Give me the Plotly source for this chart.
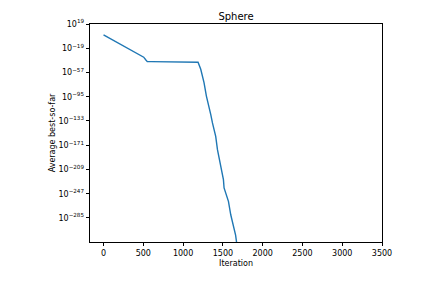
import plotly.graph_objects as go

# Data
iterations = [0, 250, 505, 530, 550, 600, 900, 1188, 1222, 1263, 1293, 1326, 1348, 1369,
              1410, 1432, 1473, 1507, 1515, 1570, 1599, 1641, 1660, 1672]
best_so_far = [1e2, 1e-15, 1e-33, 1e-37, 1e-40, 1e-40, 1e-41, 1e-41, 1e-52, 1e-73, 1e-94, 1e-110,
               1e-123, 1e-136, 1e-157, 1e-178, 1e-204, 1e-225, 1e-238, 1e-259, 1e-280, 1e-301,
               1e-312, 1e-323]

y_tick_exps = [19, -19, -57, -95, -133, -171, -209, -247, -285]
x_ticks = [0, 500, 1000, 1500, 2000, 2500, 3000, 3500]

FONT = "DejaVu Sans"
W, H = 434, 282  # page body has an 8px margin

def sup(e):
    s = str(e).replace("-", "\u2212")
    return "10<sup>" + s + "</sup>"

fig = go.Figure()
fig.add_trace(go.Scatter(
    x=iterations, y=best_so_far, mode="lines",
    line=dict(color="#1f77b4", width=1.4),
    showlegend=False,
))

fig.update_layout(
    width=W, height=H,
    margin=dict(l=82, r=60, t=16, b=48, autoexpand=False),
    paper_bgcolor="white", plot_bgcolor="white",
    font=dict(family=FONT, size=8, color="black"),
    title=dict(text="Sphere", x=(82 + (W - 60)) / 2 / W, xanchor="center",
               y=1 - 8.7 / H, yanchor="middle",
               font=dict(family=FONT, size=10, color="black")),
)

fig.update_xaxes(
    range=[-170, 3500],
    tickvals=x_ticks, ticktext=[str(v) for v in x_ticks],
    ticks="outside", ticklen=3.5, tickwidth=0.8, tickcolor="black",
    showline=True, linecolor="black", linewidth=0.8, mirror=True,
    showgrid=False, zeroline=False,
    title=dict(text="Iteration", standoff=3, font=dict(family=FONT, size=8)),
    tickfont=dict(family=FONT, size=8),
)

fig.update_yaxes(
    type="log", range=[-322.7, 19],
    tickvals=[10.0 ** e for e in y_tick_exps],
    ticktext=[sup(e) for e in y_tick_exps],
    ticks="outside", ticklen=3.5, tickwidth=0.8, tickcolor="black",
    showline=True, linecolor="black", linewidth=0.8, mirror=True,
    showgrid=False, zeroline=False,
    title=dict(text="Average best-so-far", standoff=1.5, font=dict(family=FONT, size=8)),
    tickfont=dict(family=FONT, size=8),
)

fig.write_html("out.html")
